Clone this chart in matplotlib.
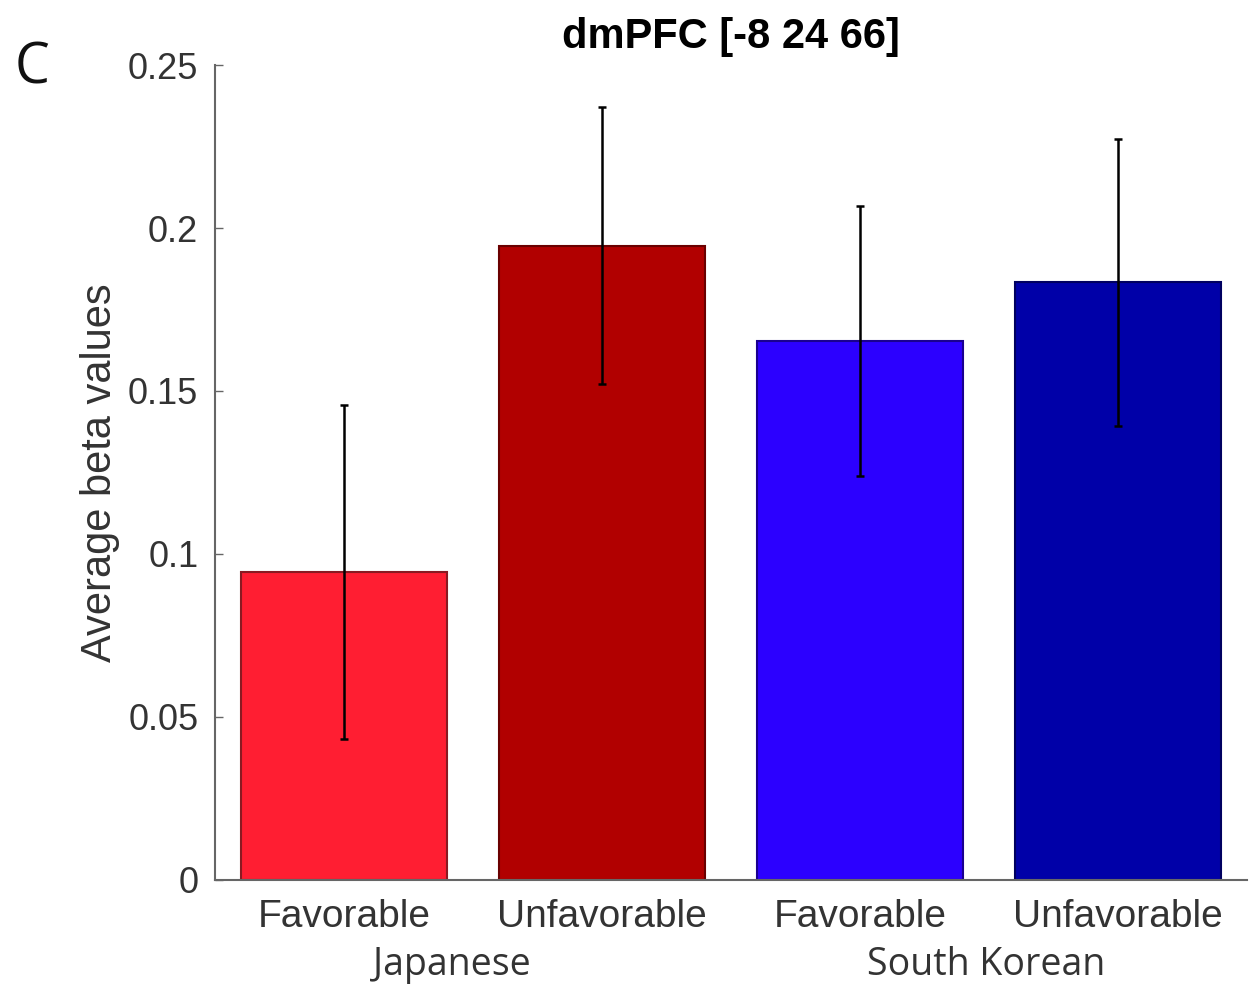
import matplotlib.pyplot as plt
from matplotlib import font_manager

# values
categories = ['Favorable', 'Unfavorable', 'Favorable', 'Unfavorable']
groups = ['Japanese', 'South Korean']
groupPos = [1.42, 3.49]
means = [0.0945, 0.1945, 0.1653, 0.1834]
errors = [0.0513, 0.0425, 0.0413, 0.0440]
barColors = ['#ff1e32', '#b10000', '#2c00ff', '#0000a8']
edgeColors = ['#8a1a22', '#6a0000', '#1a0090', '#000060']
yTicks = [0, 0.05, 0.1, 0.15, 0.2, 0.25]
yTickLabels = ['0', '0.05', '0.1', '0.15', '0.2', '0.25']


def pickFont(names):
    have = {f.name for f in font_manager.fontManager.ttflist}
    for n in names:
        if n in have:
            return n
    return 'DejaVu Sans'


narrow = pickFont(['Liberation Sans Narrow', 'Liberation Sans'])
humanist = pickFont(['Open Sans', 'Noto Sans'])

fig = plt.figure(figsize=(12.5, 9.94), dpi=100)
ax = fig.add_axes([0.172, 0.1147, 0.8256, 0.8199])

xs = list(range(1, len(means) + 1))
ax.bar(xs, means, width=0.8, color=barColors, edgecolor=edgeColors, linewidth=1.5, zorder=2)
ax.errorbar(xs, means, yerr=errors, fmt='none', ecolor='black', elinewidth=1.8,
            capsize=3, capthick=1.8, zorder=3)

ax.set_xlim(0.5, 4.5)
ax.set_ylim(0, 0.25)
ax.set_yticks(yTicks)
ax.set_yticklabels(yTickLabels, fontsize=26, family=narrow, color='#333333')
ax.set_xticks(xs)
ax.set_xticklabels(categories, fontsize=28, family=narrow, color='#333333')
ax.tick_params(axis='y', direction='in', length=6, width=1, color='#666666', pad=12)
ax.tick_params(axis='x', length=0, pad=14)

for s in ['top', 'right']:
    ax.spines[s].set_visible(False)
for s in ['left', 'bottom']:
    ax.spines[s].set_color('#666666')
    ax.spines[s].set_linewidth(1.5)

ax.set_ylabel('Average beta values', fontsize=30, family=narrow, color='#333333', labelpad=6)
ax.set_title('dmPFC [-8 24 66]', fontsize=30, family=narrow, fontweight='bold', pad=12)

# group labels under the category labels
for g, gx in zip(groups, groupPos):
    ax.text(gx, -0.0262, g, transform=ax.transData, ha='center', va='center',
            fontsize=27, family=humanist, color='#333333', clip_on=False)

fig.text(0.012, 0.931, 'C', fontsize=40, family=humanist, color='#111111', va='center')

fig.savefig('out.png', dpi=100, facecolor='white')
